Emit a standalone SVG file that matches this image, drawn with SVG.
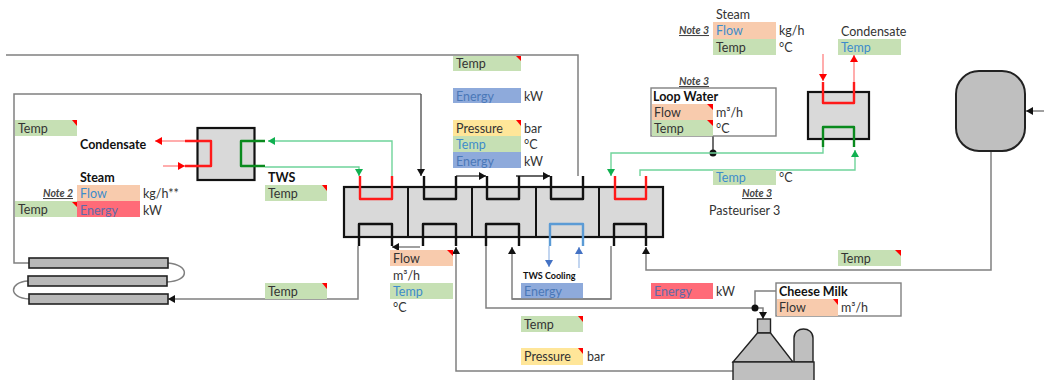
<svg xmlns="http://www.w3.org/2000/svg" width="1044" height="380" viewBox="0 0 1044 380">
<style>
text{font-family:"Lato","Liberation Sans",sans-serif;font-size:12.5px;fill:#333}
.b{font-weight:700;fill:#111}
.n{font-style:italic;font-weight:700;font-size:10.5px;text-decoration:underline;fill:#444}
.tb{fill:#3d8ccb}.te{fill:#4a78b8}.tr{fill:#5f6aa8}
.g{fill:#c6e0b4}.o{fill:#f8cbad}.r{fill:#ff6b78}.bl{fill:#8eaadb}.y{fill:#ffe699}
.c{fill:#f00}
.hx{fill:#d9d9d9;stroke:#111;stroke-width:2.2}
.m{fill:#bfbfbf;stroke:#222;stroke-width:1.4}
.tube{fill:#b8b8b8;stroke:#222;stroke-width:1.6}
.u{fill:none;stroke-width:2.4;stroke-linejoin:round}
.k{stroke:#111}.rd{stroke:#ff1a1a}.gn{stroke:#0a8a1e}.bu{stroke:#5b9bd5}
.l{fill:none;stroke:#808080;stroke-width:1.5}
.lg{fill:none;stroke:#6fd49a;stroke-width:1.4}
.lr{fill:none;stroke:#ff8a8a;stroke-width:1.4}
.lb{fill:none;stroke:#a9c4ea;stroke-width:1.4}
.box{fill:#fff;stroke:#808080;stroke-width:1.4}
</style>
<defs>
<marker id="ak" markerUnits="userSpaceOnUse" markerWidth="8" markerHeight="8" refX="7" refY="4" orient="auto"><path d="M0 0L7 4L0 8z" fill="#111"/></marker>
<marker id="ag" markerUnits="userSpaceOnUse" markerWidth="8" markerHeight="8" refX="7" refY="4" orient="auto"><path d="M0 0L7 4L0 8z" fill="#10b050"/></marker>
<marker id="ar" markerUnits="userSpaceOnUse" markerWidth="8" markerHeight="8" refX="7" refY="4" orient="auto"><path d="M0 0L7 4L0 8z" fill="#f00"/></marker>
<marker id="ab" markerUnits="userSpaceOnUse" markerWidth="8" markerHeight="8" refX="7" refY="4" orient="auto"><path d="M0 0L7 4L0 8z" fill="#4472c4"/></marker>
</defs>

<g id="connectors">
<path class="l" d="M6 55H578V176"/>
<path class="l" d="M29 263H14V94H421" />
<path d="M421 94V176" fill="none" stroke="#555" stroke-width="1.4" marker-end="url(#ak)"/>
<path d="M358 246V299H168" class="l" marker-end="url(#ak)"/>
<path d="M168 263C190 265 190 281 167 282" class="l"/>
<path d="M28 281C9 282 8 298 29 299" class="l"/>
<path d="M456 176H486" fill="none" stroke="#333" stroke-width="1.3" marker-end="url(#ak)"/>
<path d="M516 176H550" fill="none" stroke="#333" stroke-width="1.3" marker-end="url(#ak)"/>
<path d="M420 247H392" class="l" marker-end="url(#ak)"/>
<path d="M733 371H456V247" class="l" marker-end="url(#ak)"/>
<path d="M486 246V308H755V291H776" class="l"/>
<path d="M755 308H763V319" class="l" stroke="#222" marker-end="url(#ak)"/>
<path d="M611 246V299H512V247" class="l" marker-end="url(#ak)"/>
<path d="M991 151V270H646V247" class="l" marker-end="url(#ak)"/>
<path d="M1044 111H1026" class="l" marker-end="url(#ak)"/>
<path d="M713 136V153" stroke="#222" stroke-width="1.3" fill="none"/>
<circle cx="713" cy="153" r="3.5" fill="#111"/>
<circle cx="755" cy="308" r="3.5" fill="#111"/>
<path d="M392 176V141H268" class="lg" marker-end="url(#ag)"/>
<path d="M265 167H359V176" class="lg" marker-end="url(#ag)"/>
<path d="M823 147V153H611V176" class="lg" marker-end="url(#ag)"/>
<path d="M640 176V170H855V150" class="lg" marker-end="url(#ag)"/>
<path d="M185 141H155" class="lr" marker-end="url(#ar)"/>
<path d="M163 166H185" class="lr" marker-end="url(#ar)"/>
<path d="M823 54V81" class="lr" marker-end="url(#ar)"/>
<path d="M854 82V55" class="lr" marker-end="url(#ar)"/>
<path d="M549 246V267" class="lb" marker-end="url(#ab)"/>
<path d="M579 268V247" class="lb" marker-end="url(#ab)"/>
</g>

<g id="hx-main">
<rect class="hx" x="344" y="187" width="319" height="50"/>
<path d="M408 187V237M472 187V237M536 187V237M599 187V237" stroke="#111" stroke-width="2" fill="none"/>
<path class="u rd" d="M360 176V199H392V176"/>
<path class="u k" d="M424 176V199H456V176"/>
<path class="u k" d="M487 176V199H519V176"/>
<path class="u k" d="M551 176V199H583V176"/>
<path class="u rd" d="M615 176V199H646V176"/>
<path class="u k" d="M359 246V224H392V246"/>
<path class="u k" d="M423 246V224H456V246"/>
<path class="u k" d="M486 246V224H519V246"/>
<path class="u bu" d="M550 246V224H583V246"/>
<path class="u k" d="M614 246V224H646V246"/>
</g>

<g id="hx-tws">
<rect class="hx" x="197.500" y="128" width="57" height="52"/>
<path class="u rd" d="M185 141H211V166H185"/>
<path class="u gn" d="M265 141H241V166H265"/>
</g>

<g id="hx-pasteuriser">
<rect class="hx" x="808" y="92" width="61" height="47"/>
<path class="u rd" d="M823 82V103H854V82"/>
<path class="u gn" d="M823 147V127H854V147"/>
</g>

<g id="tubes">
<rect class="tube" x="29" y="258" width="139" height="10"/>
<rect class="tube" x="28" y="276" width="139" height="10"/>
<rect class="tube" x="29" y="294" width="139" height="10"/>
</g>

<g id="tank"><rect x="956" y="71" width="69" height="80" rx="23" ry="23" fill="#bfbfbf" stroke="#222" stroke-width="2"/></g>

<g id="machine">
<rect class="m" x="757.500" y="319" width="13" height="14"/>
<path class="m" d="M757.500 333H770.500L793 362H733z"/>
<path class="m" d="M794 362V338C794 326 813 326 813 338V362z"/>
<rect class="m" x="733" y="362" width="81" height="20"/>
</g>

<g id="steam-left">
<text class="b" x="80" y="149">Condensate</text>
<text class="b" x="80" y="182">Steam</text>
<text class="n" x="43" y="197">Note 2</text>
<rect class="o" x="77" y="185" width="63" height="16"/><text class="tb" x="80" y="198">Flow</text>
<rect class="r" x="77" y="201" width="63" height="16"/><text class="tr" x="80" y="215">Energy</text>
<text x="143" y="198">kg/h**</text><text x="143" y="215">kW</text>
<rect class="g" x="15" y="201" width="62" height="16"/><text x="18" y="214">Temp</text><path class="c" d="M72 202H77V207z"/>
</g>
<g id="temp-left"><rect class="g" x="15" y="120" width="62" height="16"/><text x="18" y="133">Temp</text><path class="c" d="M72 120H77V126z"/></g>
<g id="tws"><text class="b" x="268" y="182">TWS</text><rect class="g" x="265" y="185" width="62" height="16"/><text x="268" y="198">Temp</text><path class="c" d="M322 185H327V191z"/></g>
<g id="temp-return"><rect class="g" x="265" y="283" width="62" height="16"/><text x="268" y="296">Temp</text><path class="c" d="M322 283H327V289z"/></g>

<g id="center-top">
<rect class="g" x="453" y="56" width="68" height="15"/><text x="456" y="68">Temp</text><path class="c" d="M516 56H521V61z"/>
<rect class="bl" x="453" y="88" width="68" height="15"/><text class="te" x="456" y="101">Energy</text><text x="524" y="101">kW</text>
<rect class="y" x="453" y="120" width="68" height="16"/><text x="456" y="133">Pressure</text><text x="524" y="133">bar</text><path class="c" d="M516 120H521V126z"/>
<rect class="g" x="453" y="136" width="68" height="16"/><text class="tb" x="456" y="149">Temp</text><text x="524" y="149">°C</text>
<rect class="bl" x="453" y="152" width="68" height="16"/><text class="te" x="456" y="166">Energy</text><text x="524" y="166">kW</text>
</g>

<g id="flow-temp">
<rect class="o" x="390" y="250" width="63" height="16"/><text x="393" y="263">Flow</text><path class="c" d="M447 250H453V256z"/>
<text x="393" y="280">m³/h</text>
<rect class="g" x="390" y="283" width="63" height="16"/><text class="tb" x="393" y="296">Temp</text>
<text x="393" y="312">°C</text>
</g>

<g id="tws-cooling">
<text class="b" x="523" y="279" style="font-size:9px">TWS Cooling</text>
<rect class="bl" x="521" y="283" width="62" height="16"/><text class="te" x="524" y="296">Energy</text>
<path d="M512 299H611" stroke="#808080" stroke-width="1.500" fill="none"/>
</g>
<g id="temp-lower"><rect class="g" x="521" y="316" width="62" height="16"/><text x="524" y="329">Temp</text><path class="c" d="M578 316H583V322z"/></g>
<g id="pressure-lower"><rect class="y" x="521" y="348" width="62" height="17"/><text x="524" y="361">Pressure</text><text x="587" y="361">bar</text><path class="c" d="M578 348H583V354z"/></g>

<g id="steam-top">
<text x="716" y="19">Steam</text>
<text class="n" x="679" y="34">Note 3</text>
<rect class="o" x="713" y="22" width="63" height="17"/><text class="tb" x="716" y="35">Flow</text><text x="779" y="35">kg/h</text>
<rect class="g" x="713" y="39" width="63" height="16"/><text x="716" y="52">Temp</text><text x="779" y="52">°C</text>
</g>
<g id="condensate-top"><text x="841" y="36">Condensate</text><rect class="g" x="838" y="39" width="63" height="16"/><text class="tb" x="841" y="52">Temp</text></g>

<g id="loop-water">
<text class="n" x="679" y="85">Note 3</text>
<rect class="box" x="651" y="88" width="125" height="48"/>
<text class="b" x="653" y="101">Loop Water</text>
<rect class="o" x="652" y="104" width="61" height="16"/><text x="654" y="117">Flow</text><path class="c" d="M707 104H713V110z"/><text x="716" y="117">m³/h</text>
<rect class="g" x="652" y="120" width="61" height="16"/><text x="654" y="133">Temp</text><path class="c" d="M707 120H713V126z"/><text x="716" y="133">°C</text>
</g>
<g id="pasteuriser-temp">
<rect class="g" x="713" y="170" width="63" height="15"/><text class="tb" x="716" y="182">Temp</text><text x="779" y="182">°C</text>
<text class="n" x="742" y="197">Note 3</text>
<text x="709" y="215">Pasteuriser 3</text>
</g>
<g id="temp-right"><rect class="g" x="838" y="250" width="63" height="16"/><text x="841" y="263">Temp</text><path class="c" d="M895 250H901V256z"/></g>
<g id="energy-right"><rect class="r" x="651" y="283" width="62" height="16"/><text class="tr" x="654" y="296">Energy</text><text x="716" y="296">kW</text></g>
<g id="cheese-milk">
<rect class="box" x="776" y="283" width="125" height="33"/>
<text class="b" x="779" y="296">Cheese Milk</text>
<rect class="o" x="777" y="299" width="61" height="17"/><text x="779" y="312">Flow</text><path class="c" d="M833 299H838V305z"/><text x="841" y="312">m³/h</text>
</g>
</svg>
